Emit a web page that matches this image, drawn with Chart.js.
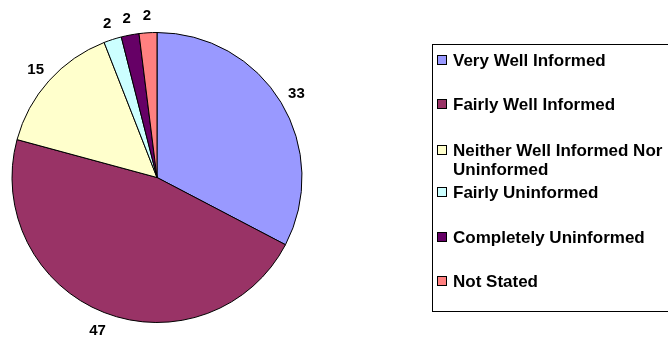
<!DOCTYPE html>
<html>
<head>
<meta charset="utf-8">
<script src="https://cdn.jsdelivr.net/npm/chart.js@4"></script>
<style>
html, body { margin: 0; padding: 0; background: #fff; overflow: hidden; }
canvas { display: block; }
</style>
</head>
<body>
<canvas id="myChart" width="668" height="347"></canvas>
<script>
const categories = [
	'Very Well Informed',
	'Fairly Well Informed',
	'Neither Well Informed Nor Uninformed',
	'Fairly Uninformed',
	'Completely Uninformed',
	'Not Stated'
];
const values = [33, 47, 15, 2, 2, 2];
const colours = ['#9999FF', '#993366', '#FFFFCC', '#CCFFFF', '#660066', '#FF8080'];
// legend text lines (the third entry wraps in the original)
const legendLines = [
	['Very Well Informed'],
	['Fairly Well Informed'],
	['Neither Well Informed Nor', 'Uninformed'],
	['Fairly Uninformed'],
	['Completely Uninformed'],
	['Not Stated']
];

const LABEL_FONT = 'bold 15px "Liberation Sans", Arial, sans-serif';
const LEGEND_FONT = 'bold 17px "Liberation Sans", Arial, sans-serif';

const sliceLabels = {
	id: 'sliceLabels',
	afterDatasetsDraw: (chart) => {
		const ctx = chart.ctx;
		const meta = chart.getDatasetMeta(0);
		ctx.save();
		ctx.font = LABEL_FONT;
		ctx.fillStyle = '#000';
		ctx.textAlign = 'center';
		ctx.textBaseline = 'alphabetic';
		meta.data.forEach(function(arc, i){
			const p = arc.getProps(['x', 'y', 'startAngle', 'endAngle', 'outerRadius'], true);
			const mid = (p.startAngle + p.endAngle) / 2;
			const r = p.outerRadius + 18;
			// centre the digits (cap height ~0.72em) on the anchor point
			ctx.fillText(String(values[i]), p.x + Math.cos(mid) * r, p.y + Math.sin(mid) * r + 5.4);
		});
		ctx.restore();
	}
};

const boxLegend = {
	id: 'boxLegend',
	afterDraw: (chart) => {
		const ctx = chart.ctx;
		ctx.save();
		ctx.strokeStyle = '#000';
		ctx.lineWidth = 1;
		ctx.strokeRect(432.5, 44.5, 260, 267);
		ctx.font = LEGEND_FONT;
		ctx.textBaseline = 'alphabetic';
		ctx.textAlign = 'left';
		const rowY = [60, 104, 150, 192, 237, 281];
		for (let i = 0; i < categories.length; i++) {
			ctx.fillStyle = colours[i];
			ctx.fillRect(437, rowY[i] - 5, 10, 10);
			ctx.strokeRect(437.5, rowY[i] - 4.5, 9, 9);
			ctx.fillStyle = '#000';
			for (let j = 0; j < legendLines[i].length; j++) {
				ctx.fillText(legendLines[i][j], 453, rowY[i] + 6 + j * 19);
			}
		}
		ctx.restore();
	}
};

const config = {
	type: 'pie',
	data: {
		labels: categories,
		datasets: [{
			data: values,
			backgroundColor: colours,
			borderColor: '#000',
			borderWidth: 1
		}]
	},
	options: {
		responsive: false,
		animation: false,
		layout: {
			padding: { left: 11, top: 32, right: 365, bottom: 24 }
		},
		plugins: {
			legend: { display: false },
			tooltip: { enabled: false }
		}
	},
	plugins: [sliceLabels, boxLegend]
};

const myChart = new Chart(document.getElementById('myChart'), config);
</script>
</body>
</html>
